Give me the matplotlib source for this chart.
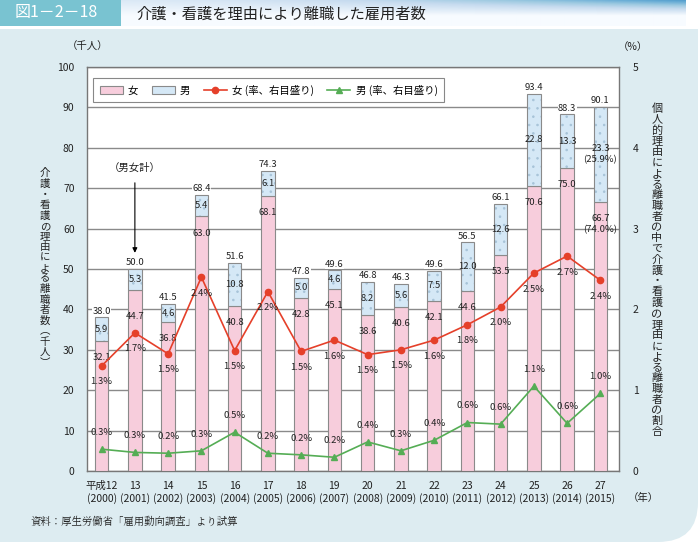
import matplotlib
matplotlib.use("Agg")
from matplotlib import pyplot as plt
from matplotlib.patches import Rectangle, FancyBboxPatch, Patch
from matplotlib.lines import Line2D
import numpy as np

plt.rcParams['font.family'] = ['Noto Sans CJK JP', 'DejaVu Sans']
plt.rcParams['hatch.linewidth'] = 0.6

# データ（千人、%）
years_jp = ["平成12", "13", "14", "15", "16", "17", "18", "19", "20", "21",
            "22", "23", "24", "25", "26", "27"]
years_ad = ["2000", "2001", "2002", "2003", "2004", "2005", "2006", "2007",
            "2008", "2009", "2010", "2011", "2012", "2013", "2014", "2015"]
female = [32.1, 44.7, 36.8, 63.0, 40.8, 68.1, 42.8, 45.1, 38.6, 40.6, 42.1,
          44.6, 53.5, 70.6, 75.0, 66.7]
male = [5.9, 5.3, 4.6, 5.4, 10.8, 6.1, 5.0, 4.6, 8.2, 5.6, 7.5, 12.0, 12.6,
        22.8, 13.3, 23.3]
total = [38.0, 50.0, 41.5, 68.4, 51.6, 74.3, 47.8, 49.6, 46.8, 46.3, 49.6,
         56.5, 66.1, 93.4, 88.3, 90.1]
female_rate = [1.30, 1.71, 1.45, 2.40, 1.49, 2.22, 1.48, 1.62, 1.44, 1.50,
               1.62, 1.81, 2.03, 2.45, 2.66, 2.36]
male_rate = [0.27, 0.23, 0.22, 0.25, 0.48, 0.22, 0.20, 0.17, 0.36, 0.25,
             0.38, 0.60, 0.58, 1.05, 0.59, 0.96]
female_rate_lbl = ["1.3", "1.7", "1.5", "2.4", "1.5", "2.2", "1.5", "1.6",
                   "1.5", "1.5", "1.6", "1.8", "2.0", "2.5", "2.7", "2.4"]
male_rate_lbl = ["0.3", "0.3", "0.2", "0.3", "0.5", "0.2", "0.2", "0.2",
                 "0.4", "0.3", "0.4", "0.6", "0.6", "1.1", "0.6", "1.0"]

PINK = "#f7cddc"
BLUE = "#d5e8f6"
RED = "#e5402a"
GREEN = "#55ad55"
PANEL = "#ddecf1"
GRID = "#8a8a8a"

fig = plt.figure(figsize=(7.0, 5.44), dpi=100, facecolor="white")

# 背景パネル（右下だけ角丸）
top_in = 5.44 - 0.29
fig.patches.append(FancyBboxPatch((0, 0.02), 6.98, top_in - 0.02,
                                  boxstyle="round,pad=0,rounding_size=0.4",
                                  transform=fig.dpi_scale_trans,
                                  facecolor=PANEL, edgecolor="none", zorder=0))
fig.patches.append(Rectangle((0, 0.02), 3.0, top_in - 0.02,
                             transform=fig.dpi_scale_trans,
                             facecolor=PANEL, edgecolor="none", zorder=0))
fig.patches.append(Rectangle((0, 3.0), 6.98, top_in - 3.0,
                             transform=fig.dpi_scale_trans,
                             facecolor=PANEL, edgecolor="none", zorder=0))

# ヘッダー
fig.patches.append(Rectangle((0, 5.44 - 0.26), 1.21, 0.26,
                             transform=fig.dpi_scale_trans,
                             facecolor="#79c3d1", edgecolor="none", zorder=1))
gax = fig.add_axes([121 / 700, 1 - 26 / 544, 565 / 700, 26 / 544], zorder=0)
gx = np.linspace(0, 1, 200)
gy = np.linspace(0, 1, 26)
grad = np.clip((gy[:, None] - 0.4) * 1.6, 0, 1) * (0.25 + 0.75 * gx[None, :] ** 1.5)
gax.imshow(grad, cmap="Blues", vmin=0, vmax=1.7, aspect="auto", origin="lower",
           extent=(0, 1, 0, 1), interpolation="bilinear")
gax.axis("off")
fig.text(15 / 700, 1 - 13 / 544, "図1－2－18", color="white", fontsize=11.5,
         va="center", ha="left")
fig.text(136 / 700, 1 - 14 / 544, "介護・看護を理由により離職した雇用者数",
         color="#222222", fontsize=11, va="center", ha="left")

ax = fig.add_axes([87 / 700, 73 / 544, 532 / 700, 404 / 544], zorder=2)
ax2 = ax.twinx()

x = np.arange(len(years_jp))
w = 0.4

ax.bar(x, female, w, color=PINK, edgecolor="#8a8a8a", linewidth=0.8, zorder=3)
ax.bar(x, male, w, bottom=female, color=BLUE, edgecolor="#a7c3d8", hatch="..",
       linewidth=0, zorder=3)
ax.bar(x, male, w, bottom=female, fill=False, edgecolor="#8a8a8a",
       linewidth=0.8, zorder=4)

ax.set_xlim(-0.44, 15.56)
ax.set_ylim(0, 100)
ax.set_yticks(range(0, 101, 10))
ax.yaxis.grid(True, color=GRID, linewidth=1.0, zorder=0)
ax.set_axisbelow(True)
ax.set_xticks(x)
ax.set_xticklabels([f"{a}\n({b})" for a, b in zip(years_jp, years_ad)],
                   fontsize=7.5, linespacing=1.25)
ax.tick_params(axis="both", length=0, labelsize=7.5, colors="#222222")
ax.tick_params(axis="y", pad=9)
ax.tick_params(axis="x", pad=7)
for s in ax.spines.values():
    s.set_color("#777777")
    s.set_linewidth(1.0)

ax2.set_ylim(0, 5)
ax2.set_yticks(range(0, 6))
ax2.tick_params(axis="y", length=0, labelsize=7.5, pad=10, colors="#222222")
for s in ax2.spines.values():
    s.set_visible(False)

ax2.plot(x, female_rate, color=RED, marker="o", markersize=4.5, linewidth=1.2,
         zorder=5)
ax2.plot(x, male_rate, color=GREEN, marker="^", markersize=5, linewidth=1.2,
         zorder=5)

lab = dict(fontsize=6.8, color="#222222", ha="center", va="center",
           textcoords="offset points", zorder=6)

female_off = [-12] * len(x)
female_off[1] = -19
for i in range(len(x)):
    # 合計
    ax.annotate(f"{total[i]:.1f}", (x[i], total[i]), xytext=(0, 4.5),
                bbox=dict(facecolor="white", edgecolor="none", pad=0.3), **lab)
    # 男
    txt = f"{male[i]:.1f}"
    if i == 15:
        txt = "23.3\n(25.9%)"
    ax.annotate(txt, (x[i], female[i] + male[i] / 2), xytext=(0, 0),
                linespacing=1.3, **lab)
    # 女
    txt = f"{female[i]:.1f}"
    if i == 15:
        txt = "66.7\n(74.0%)"
        ax.annotate(txt, (x[i], female[i]), xytext=(0, -16.5),
                    linespacing=1.3, **lab)
    else:
        ax.annotate(txt, (x[i], female[i]), xytext=(0, female_off[i]), **lab)
    ax2.annotate(female_rate_lbl[i] + "%", (x[i], female_rate[i]),
                 xytext=(0, -11.5), **lab)
    ax2.annotate(male_rate_lbl[i] + "%", (x[i], male_rate[i]),
                 xytext=(0, 12), **lab)

ax.annotate("（男女計）", xy=(1, 54.0), xytext=(1, 75.0), fontsize=7.5,
            ha="center", va="center", color="#222222",
            arrowprops=dict(arrowstyle="-|>", color="black", lw=0.8,
                            shrinkA=5, shrinkB=0, mutation_scale=7))

handles = [Patch(facecolor=PINK, edgecolor="#8a8a8a", linewidth=0.8),
           Patch(facecolor=BLUE, edgecolor="#8a8a8a", linewidth=0.8),
           Line2D([], [], color=RED, marker="o", markersize=4.5, linewidth=1.2),
           Line2D([], [], color=GREEN, marker="^", markersize=5, linewidth=1.2)]
names = ["女", "男", "女 (率、右目盛り)", "男 (率、右目盛り)"]
leg = ax.legend(handles, names, loc="upper left", bbox_to_anchor=(0.012, 0.972),
                ncol=4, fontsize=7.5, frameon=True, fancybox=False,
                framealpha=1, edgecolor="#888888", handlelength=2.2,
                handletextpad=0.5, columnspacing=1.3, borderpad=0.6,
                borderaxespad=0)
leg.get_frame().set_linewidth(0.8)
leg.set_zorder(10)

# 軸ラベル（縦書き）
fig.text(88 / 700, 1 - 47 / 544, "（千人）", fontsize=7.5, ha="center",
         va="center", color="#222222")
fig.text(633 / 700, 1 - 47 / 544, "（%）", fontsize=7.5, ha="center",
         va="center", color="#222222")
left_lbl = "介護・看護の理由による離職者数︵千人︶"
fig.text(45 / 700, 1 - 268 / 544, "\n".join(left_lbl), fontsize=7.5,
         ha="center", va="center", linespacing=1.06, color="#222222")
right_lbl = "個人的理由による離職者の中で介護・看護の理由による離職者の割合"
fig.text(657 / 700, 1 - 270 / 544, "\n".join(right_lbl), fontsize=8,
         ha="center", va="center", linespacing=1.09, color="#222222")
fig.text(643 / 700, 1 - 498 / 544, "（年）", fontsize=7.5, ha="center",
         va="center", color="#222222")
fig.text(30 / 700, 1 - 521 / 544, "資料：厚生労働省「雇用動向調査」より試算",
         fontsize=7.5, ha="left", va="center", color="#222222",
         family=["Noto Serif CJK JP", "Noto Sans CJK JP", "DejaVu Sans"])

fig.savefig("out.png", dpi=100)
